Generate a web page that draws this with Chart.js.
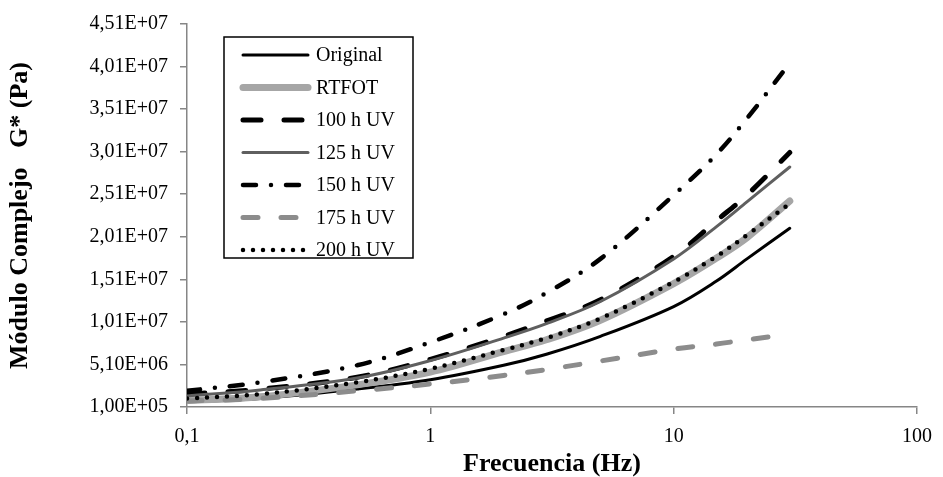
<!DOCTYPE html>
<html>
<head>
<meta charset="utf-8">
<script src="https://cdn.jsdelivr.net/npm/chart.js@4.4.1/dist/chart.umd.min.js"></script>
<style>
  html, body { margin: 0; padding: 0; background: #fff; }
  #wrap { width: 943px; height: 477px; }
</style>
</head>
<body>
<div id="wrap"><canvas id="myChart" width="943" height="477"></canvas></div>
<script>
// Frequencies (Hz) and |G*| (Pa)
const frequencies = [0.1, 0.2, 0.5, 1, 2, 3, 5, 10, 15, 20, 30];
const original = [0.70e6, 1.10e6, 2.20e6, 3.30e6, 5.00e6, 6.30e6, 8.40e6, 11.9e6, 14.9e6, 17.5e6, 21.1e6];
const rtfot    = [0.85e6, 1.30e6, 2.70e6, 4.20e6, 6.60e6, 8.00e6, 10.3e6, 14.6e6, 17.6e6, 20.0e6, 24.3e6];
const uv100    = [1.60e6, 2.20e6, 3.60e6, 5.70e6, 8.40e6, 10.2e6, 12.7e6, 17.8e6, 22.0e6, 25.0e6, 30.0e6];
const uv125    = [1.40e6, 2.10e6, 3.50e6, 5.55e6, 8.20e6, 9.90e6, 12.5e6, 17.5e6, 21.3e6, 24.2e6, 28.3e6];
const uv150    = [2.00e6, 3.00e6, 5.00e6, 7.70e6, 11.0e6, 13.5e6, 17.5e6, 25.0e6, 29.8e6, 34.0e6, 40.5e6];
const uv175    = [0.80e6, 1.10e6, 2.00e6, 2.80e6, 3.80e6, 4.50e6, 5.50e6, 6.90e6, 7.50e6, 8.00e6, 8.65e6];
const uv200    = [1.10e6, 1.60e6, 3.00e6, 4.60e6, 6.80e6, 8.20e6, 10.5e6, 14.8e6, 17.8e6, 20.3e6, 24.0e6];

const xTicks = [0.1, 1, 10, 100];
const yTicks = [1.0e5, 5.1e6, 1.01e7, 1.51e7, 2.01e7, 2.51e7, 3.01e7, 3.51e7, 4.01e7, 4.51e7];

const FONT = '"Liberation Serif", "Times New Roman", serif';
const AXIS_GREY = '#868686';

function pts(values) {
    return frequencies.map((f, i) => ({ x: f, y: values[i] }));
}

function fmtSci(v) {
    const parts = v.toExponential(2).split('e');
    const exp = parseInt(parts[1], 10);
    const sign = exp < 0 ? '-' : '+';
    return parts[0].replace('.', ',') + 'E' + sign + String(Math.abs(exp)).padStart(2, '0');
}

// legend drawn inside the plot, in a framed box
const boxLegend = {
    id: 'boxLegend',
    afterDraw(chart) {
        const ctx = chart.ctx;
        const box = { left: 224, top: 37, right: 413, bottom: 258 };
        ctx.save();
        ctx.fillStyle = '#fff';
        ctx.fillRect(box.left, box.top, box.right - box.left, box.bottom - box.top);
        ctx.strokeStyle = '#000';
        ctx.lineWidth = 1.5;
        ctx.strokeRect(box.left, box.top, box.right - box.left, box.bottom - box.top);

        chart.data.datasets.forEach((ds, i) => {
            const y = box.top + 18 + i * 32.5;
            ctx.beginPath();
            ctx.strokeStyle = ds.borderColor;
            ctx.lineWidth = ds.borderWidth;
            ctx.lineCap = ds.borderCapStyle || 'butt';
            ctx.setLineDash(ds.borderDash || []);
            ctx.moveTo(243, y);
            ctx.lineTo(308, y);
            ctx.stroke();
            ctx.setLineDash([]);
            ctx.fillStyle = '#000';
            ctx.font = '20px ' + FONT;
            ctx.textBaseline = 'middle';
            ctx.fillText(ds.label, 316, y + 1);
        });
        ctx.restore();
    }
};

function init() {
    const ctx = document.getElementById('myChart').getContext('2d');

    const datasets = [
        { label: 'Original',  data: pts(original), borderColor: '#000000', borderWidth: 3,   borderDash: [] },
        { label: 'RTFOT',     data: pts(rtfot),    borderColor: '#a6a6a6', borderWidth: 7,   borderDash: [] },
        { label: '100 h UV',  data: pts(uv100),    borderColor: '#000000', borderWidth: 5,   borderDash: [18, 23] },
        { label: '125 h UV',  data: pts(uv125),    borderColor: '#5f5f5f', borderWidth: 3,   borderDash: [] },
        { label: '150 h UV',  data: pts(uv150),    borderColor: '#000000', borderWidth: 4.5, borderDash: [13, 15, 0, 15] },
        { label: '175 h UV',  data: pts(uv175),    borderColor: '#8c8c8c', borderWidth: 5,   borderDash: [15, 23] },
        { label: '200 h UV',  data: pts(uv200),    borderColor: '#000000', borderWidth: 4.5, borderDash: [0, 10] }
    ];
    datasets.forEach((ds, i) => {
        ds.borderCapStyle = 'round';
        ds.pointRadius = 0;
        ds.fill = false;
        ds.tension = 0.35;
        ds.order = datasets.length - i; // later series on top, like the original
    });

    new Chart(ctx, {
        type: 'line',
        data: { datasets: datasets },
        plugins: [boxLegend],
        options: {
            responsive: false,
            animation: false,
            layout: { padding: { top: 19, right: 23, left: 0, bottom: 0 } },
            plugins: { legend: { display: false }, tooltip: { enabled: false } },
            scales: {
                x: {
                    type: 'logarithmic',
                    min: 0.1,
                    max: 100,
                    afterBuildTicks: s => { s.ticks = xTicks.map(v => ({ value: v, major: true })); },
                    afterFit: s => { s.height = 70; },
                    ticks: {
                        callback: v => String(v).replace('.', ','),
                        font: { family: FONT, size: 20 },
                        color: '#000',
                        padding: 11,
                        autoSkip: false,
                        maxRotation: 0
                    },
                    grid: { drawOnChartArea: false, tickLength: 7, color: AXIS_GREY, lineWidth: 1.5 },
                    border: { color: AXIS_GREY, width: 1.5 },
                    title: {
                        display: true,
                        text: 'Frecuencia (Hz)',
                        color: '#000',
                        font: { family: FONT, size: 26, weight: 'bold', lineHeight: 1 },
                        padding: { top: 0, bottom: 0 }
                    }
                },
                y: {
                    type: 'linear',
                    min: 1.0e5,
                    max: 4.51e7,
                    afterBuildTicks: s => { s.ticks = yTicks.map(v => ({ value: v })); },
                    afterFit: s => { s.width = 187; },
                    ticks: {
                        callback: v => fmtSci(v),
                        font: { family: FONT, size: 20 },
                        color: '#000',
                        padding: 12
                    },
                    grid: { drawOnChartArea: false, tickLength: 7, color: AXIS_GREY, lineWidth: 1.5 },
                    border: { color: AXIS_GREY, width: 1.5 },
                    title: {
                        display: true,
                        text: 'Módulo Complejo   G* (Pa)',
                        color: '#000',
                        font: { family: FONT, size: 26, weight: 'bold', lineHeight: 1 },
                        padding: { top: 7, bottom: 0 }
                    }
                }
            }
        }
    });
}

window.addEventListener('DOMContentLoaded', init);
</script>
</body>
</html>
